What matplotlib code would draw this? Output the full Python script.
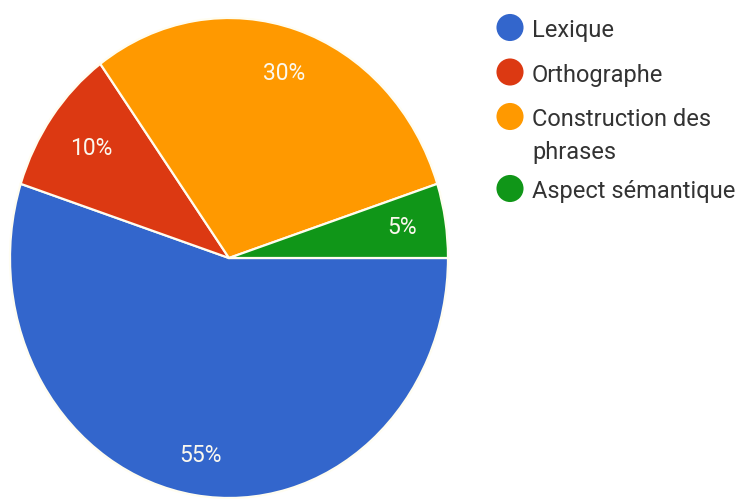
import matplotlib
matplotlib.use("Agg")
import numpy as np
import matplotlib.pyplot as plt

categories = ["Lexique", "Orthographe", "Construction des\nphrases", "Aspect sémantique"]
values = [55, 10, 30, 5]
colors = ["#3366cc", "#dc3912", "#ff9900", "#109618"]

plt.rcParams['font.family'] = ['Roboto', 'DejaVu Sans']

W, H = 742, 499
fig = plt.figure(figsize=(W / 100, H / 100), dpi=100)
fig.patch.set_facecolor("white")

# Pie area (pixel geometry: centre, horizontal and vertical radius)
cx, cy, rx, ry = 229, 258, 219, 240
ax = fig.add_axes([(cx - rx) / W, (H - cy - ry) / H, 2 * rx / W, 2 * ry / H])
wedges, texts, autotexts = ax.pie(
    values, colors=colors, startangle=0, counterclock=False,
    autopct=lambda p: f"{p:.0f}%", pctdistance=0.8,
    wedgeprops=dict(edgecolor="#fffdf0", linewidth=1.6),
    textprops=dict(color="#fbf8ee", fontsize=16.5),
)
# radial placement of the percentage labels inside each slice
label_r = [0.835, 0.775, 0.81, 0.8]
for w, t, r in zip(wedges, autotexts, label_r):
    mid = np.deg2rad((w.theta1 + w.theta2) / 2)
    t.set_position((r * np.cos(mid), r * np.sin(mid)))
ax.set_aspect("auto")
ax.set_xlim(-1, 1)
ax.set_ylim(-1, 1)
ax.axis("off")

# Legend drawn in pixel coordinates
lg = fig.add_axes([0, 0, 1, 1])
lg.set_xlim(0, W)
lg.set_ylim(H, 0)
lg.axis("off")
lg.set_zorder(-1)
baseline = 37
for name, col in zip(categories, colors):
    lines = name.split("\n")
    lg.scatter([510], [baseline - 9.5], s=380, color=col, edgecolors="none")
    for i, line in enumerate(lines):
        lg.text(532, baseline + 33 * i, line, fontsize=17, color="#333333",
                va="baseline", ha="left")
    baseline += 33 * (len(lines) - 1) + (44.5 if len(lines) == 1 else 39)

fig.savefig("out.png", dpi=100, facecolor="white")
